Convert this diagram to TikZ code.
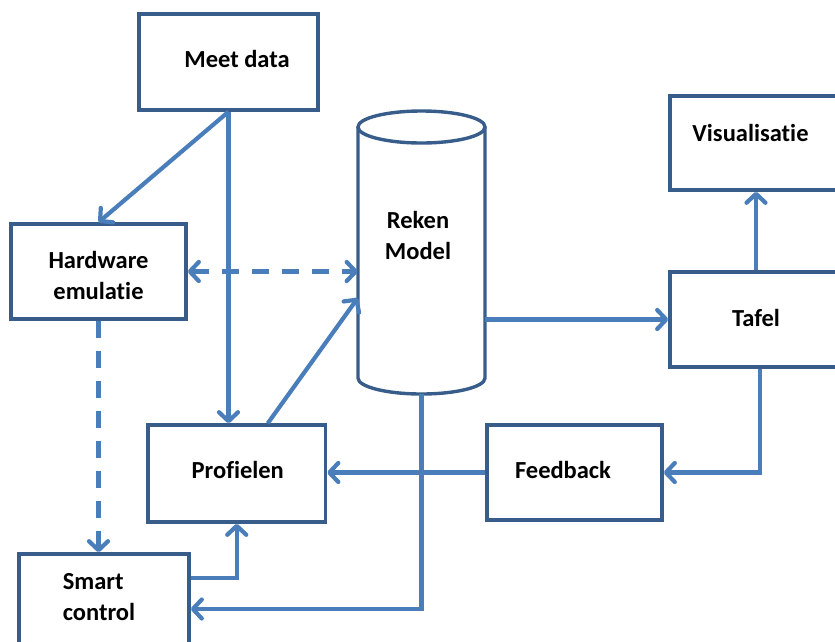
\documentclass[tikz,border=0pt]{standalone}
\usepackage{fontspec}
\setmainfont[Ligatures=NoCommon]{Carlito}
\usetikzlibrary{arrows.meta}
\definecolor{boxc}{HTML}{385D8A}
\definecolor{linec}{HTML}{4A7EBB}
\begin{document}
\begin{tikzpicture}[x=1pt,y=-1pt,
  txt/.style={font=\bfseries\fontsize{24.5}{31}\selectfont},
  box/.style={draw=boxc, line width=3.4pt, fill=white, inner sep=0pt},
  lbl/.style={inner sep=0pt, txt, align=center},
  conn/.style={draw=linec, line width=4.2pt},
  arr/.style={conn, -{Straight Barb[length=9pt,width=19pt,round]}},
  dline/.style={dash pattern=on 17pt off 13pt}]
\useasboundingbox (0,0) rectangle (835,641);
\clip (0,0) rectangle (835,641);
% boxes
\node[box, minimum width=179pt, minimum height=96pt,
  label={[lbl,xshift=8.5pt,yshift=3pt]center:Meet data}] (md) at (228.5,62) {};
\node[box, minimum width=175pt, minimum height=95pt,
  label={[lbl,yshift=-4pt]center:{Hardware\\emulatie}}] (hw) at (98.5,271.5) {};
\node[box, minimum width=172pt, minimum height=94pt,
  label={[lbl,xshift=-5.5pt,yshift=10pt]center:Visualisatie}] (vis) at (756,143) {};
\node[box, minimum width=172pt, minimum height=95pt,
  label={[lbl,yshift=1.5pt]center:Tafel}] (taf) at (756,319.5) {};
\node[box, minimum width=177.5pt, minimum height=97pt,
  label={[lbl,xshift=1pt,yshift=3.5pt]center:Profielen}] (prof) at (236.75,473.5) {};
\node[box, minimum width=175pt, minimum height=95pt,
  label={[lbl,xshift=-11.5pt,yshift=2.5pt]center:Feedback}] (fb) at (574.5,472.5) {};
\node[box, minimum width=170pt, minimum height=96pt,
  label={[lbl,align=left,xshift=-5pt,yshift=5pt]center:{Smart\\control}}] (sc) at (104,602) {};
% cylinder
\node[minimum width=127pt, minimum height=267pt, inner sep=0pt] (rm) at (421.5,260.5) {};
\draw[boxc, line width=3.4pt, fill=white] (358,127) -- (358,378) arc[start angle=180, end angle=360, x radius=63.5pt, y radius=16pt] -- (485,127);
\draw[boxc, line width=3.4pt, fill=white] (421.5,127) ellipse [x radius=63.5pt, y radius=16pt];
\node[lbl] (rmT) at (418,235.5) {Reken\\Model};
% connectors
\draw[arr] (md.south) -- (hw.north);
\draw[arr] (md.south) -- (prof.north -| md.south);
\draw[conn, dline, {Straight Barb[length=9pt,width=19pt,round]}-{Straight Barb[length=9pt,width=19pt,round]}] (hw.east) -- (rm.west |- hw.east);
\draw[arr] ([xshift=31pt]prof.north) -- (rm.west |- 0,298);
\draw[arr] (rm.east |- taf.west) -- (taf.west);
\draw[arr] (taf.north) -- (vis.south);
\draw[arr] ([xshift=4pt]taf.south) |- (fb.east);
\draw[arr] (fb.west) -- (prof.east |- fb.west);
\draw[arr] (rm.south) |- ([yshift=-7pt]sc.east);
\draw[arr] ([yshift=24pt]sc.east) -| (prof.south);
\draw[conn, dline, -{Straight Barb[length=9pt,width=19pt,round]}] (hw.south) -- (sc.north -| hw.south);
\end{tikzpicture}
\end{document}
